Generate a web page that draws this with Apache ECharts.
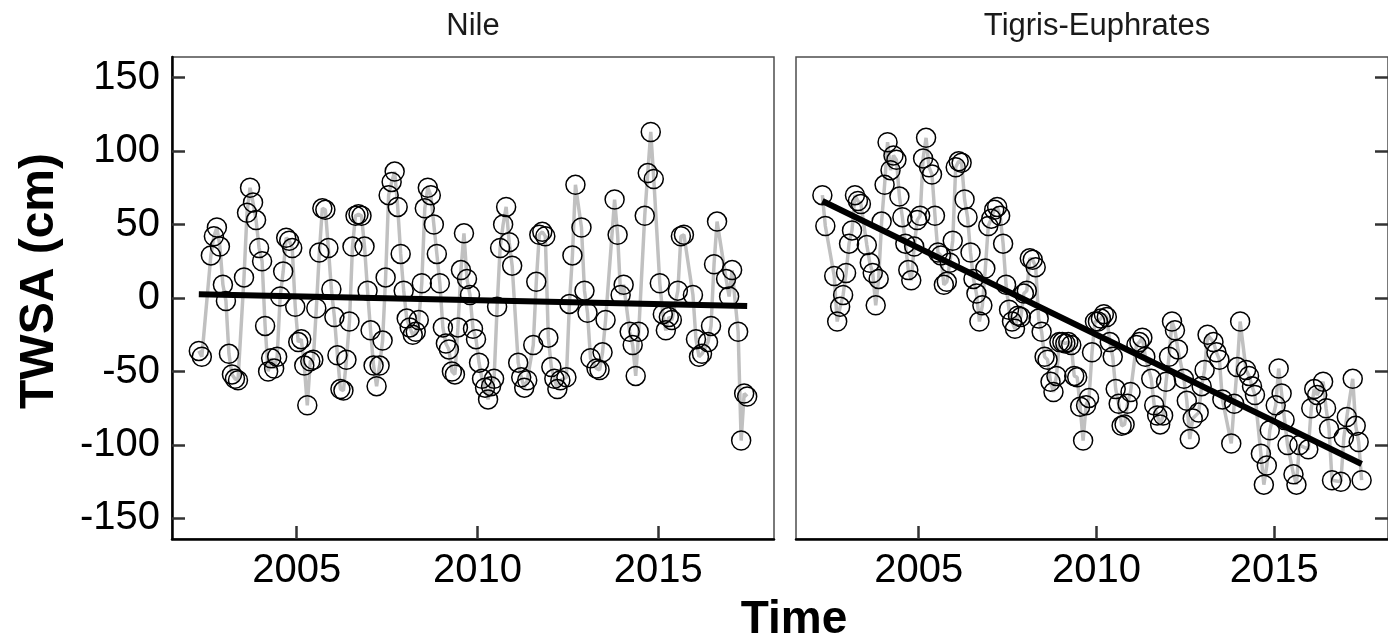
<!DOCTYPE html>
<html>
<head>
<meta charset="utf-8">
<title>TWSA</title>
<script src="https://cdn.jsdelivr.net/npm/echarts@6.0.0/dist/echarts.min.js"></script>
<style>
  html, body { margin: 0; padding: 0; background: #fff; }
  #chart { width: 1388px; height: 642px; }
</style>
</head>
<body>
<div id="chart"></div>
<script>
// GRACE months (gaps left out), one entry per observation
var months = [
  '2002-04','2002-05','2002-08','2002-09','2002-10','2002-11','2002-12',
  '2003-01','2003-02','2003-03','2003-04','2003-05','2003-07','2003-08','2003-09','2003-10','2003-11','2003-12',
  '2004-01','2004-02','2004-03','2004-04','2004-05','2004-06','2004-07','2004-08','2004-09','2004-10','2004-11','2004-12',
  '2005-01','2005-02','2005-03','2005-04','2005-05','2005-06','2005-07','2005-08','2005-09','2005-10','2005-11','2005-12',
  '2006-01','2006-02','2006-03','2006-04','2006-05','2006-06','2006-07','2006-08','2006-09','2006-10','2006-11','2006-12',
  '2007-01','2007-02','2007-03','2007-04','2007-05','2007-06','2007-07','2007-08','2007-09','2007-10','2007-11','2007-12',
  '2008-01','2008-02','2008-03','2008-04','2008-05','2008-06','2008-07','2008-08','2008-09','2008-10','2008-11','2008-12',
  '2009-01','2009-02','2009-03','2009-04','2009-05','2009-06','2009-07','2009-08','2009-09','2009-10','2009-11','2009-12',
  '2010-01','2010-02','2010-03','2010-04','2010-05','2010-06','2010-07','2010-08','2010-09','2010-10','2010-11','2010-12',
  '2011-02','2011-03','2011-04','2011-05','2011-07','2011-08','2011-09','2011-10','2011-11','2011-12',
  '2012-01','2012-02','2012-03','2012-04','2012-06','2012-07','2012-08','2012-09','2012-11','2012-12',
  '2013-01','2013-02','2013-04','2013-05','2013-06','2013-07','2013-10','2013-11','2013-12',
  '2014-01','2014-03','2014-04','2014-05','2014-06','2014-08','2014-09','2014-10','2014-11',
  '2015-01','2015-02','2015-03','2015-04','2015-05','2015-07','2015-08','2015-09','2015-12',
  '2016-01','2016-02','2016-03','2016-05','2016-06','2016-07','2016-08','2016-11','2016-12',
  '2017-01','2017-03','2017-04','2017-05','2017-06'
];

// TWSA (cm), Nile
var nileTWSA = [
  -36, -40, 29, 42, 48, 35, 9,
  -2, -38, -52, -55, -56, 14, 58, 75, 65, 53, 34,
  25, -19, -50, -41, -48, -40, 1, 18, 41, 39, 34, -6,
  -30, -28, -46, -73, -43, -42, -7, 31, 61, 60, 34, 6,
  -13, -39, -62, -63, -42, -16, 35, 56, 57, 56, 35, 5,
  -22, -46, -60, -46, -29, 14, 70, 79, 86, 62, 30, 5,
  -14, -20, -25, -23, -15, 10, 61, 75, 70, 50, 30, 10,
  -20, -31, -35, -50, -52, -20, 19, 44, 13, 2, -21, -28,
  -44, -55, -61, -69, -60, -55, -6, 34, 50, 62, 38, 22,
  -44, -54, -61, -56, -32, 11, 43, 45, 42, -27,
  -47, -55, -62, -56, -54, -4, 29, 77, 48, 5,
  -10, -41, -48, -49, -37, -15, 67, 43, 2,
  9, -23, -32, -53, -23, 56, 85, 113, 81,
  10, -11, -22, -13, -15, 5, 42, 43, 2,
  -28, -40, -38, -30, -19, 23, 52, 13, 1,
  19, -23, -97, -65, -67
];

// TWSA (cm), Tigris-Euphrates
var tigrisTWSA = [
  70, 49, 15, -16, -6, 2, 17,
  37, 46, 70, 66, 64, 36, 24, 17, -5, 13, 52,
  77, 106, 87, 97, 94, 69, 55, 37, 19, 12, 35, 53,
  56, 95, 109, 89, 84, 56, 31, 29, 9, 11, 24, 39,
  89, 93, 92, 67, 55, 31, 13, 3, -16, -5, 20, 49,
  54, 60, 62, 56, 37, 9, -8, -16, -21, -12, -13, 3,
  5, 27, 26, 21, -14, -23, -40, -42, -57, -64, -53, -30,
  -30, -31, -30, -32, -53, -54, -74, -97, -73, -68, -37, -16,
  -16, -14, -11, -13, -30, -40, -62, -72, -87, -86, -72, -64,
  -32, -30, -27, -40, -55, -73, -80, -86, -80, -57,
  -40, -16, -22, -35, -55, -70, -96, -82, -78, -60,
  -49, -25, -30, -37, -42, -69, -99, -72, -47,
  -16, -49, -53, -60, -66, -106, -127, -114, -90,
  -73, -48, -65, -83, -100, -120, -127, -100, -103,
  -75, -62, -66, -57, -75, -89, -124, -125, -95,
  -81, -55, -87, -98, -124
];

// fitted linear trend, value at first and last month
var nileTrend = [2.5, -5.5];
var tigrisTrend = [66, -113];

var panelNames = ['Nile', 'Tigris-Euphrates'];
var yTicks = [-150, -100, -50, 0, 50, 100, 150];
var xTicks = [2005, 2010, 2015];

function decimalYear(s) {
  var p = s.split('-');
  return +p[0] + (+p[1] - 0.5) / 12;
}

var times = months.map(decimalYear);

function pairs(vals) {
  return vals.map(function (v, i) { return [times[i], v]; });
}

function trendPairs(t) {
  return [[times[0], t[0]], [times[times.length - 1], t[1]]];
}

var FONT = '"Liberation Sans", Arial, Helvetica, sans-serif';
var PANEL_W = 602, PANEL_H = 482, TOP = 57;
var lefts = [172, 796];

var grids = lefts.map(function (l) {
  return {
    left: l, top: TOP, width: PANEL_W, height: PANEL_H,
    show: true, borderColor: '#4d4d4d', borderWidth: 1.5,
    backgroundColor: 'transparent'
  };
});

var xAxes = [0, 1].map(function (g) {
  return {
    type: 'value', gridIndex: g, min: 2001.55, max: 2018.2,
    splitLine: { show: false },
    axisLine: { show: true, onZero: false, lineStyle: { color: '#000', width: 2.5 } },
    axisTick: { show: true, inside: true, length: 13, customValues: xTicks,
      lineStyle: { color: '#333', width: 2.5 } },
    axisLabel: { show: true, customValues: xTicks, fontSize: 40, color: '#000',
      fontFamily: FONT, margin: 12,
      formatter: function (v) { return String(v); } }
  };
});

var yBase = { type: 'value', min: -164, max: 164, splitLine: { show: false } };

var yAxes = [
  Object.assign({}, yBase, {
    gridIndex: 0,
    axisLine: { show: true, onZero: false, lineStyle: { color: '#000', width: 2.5 } },
    axisTick: { show: true, inside: true, length: 13, customValues: yTicks,
      lineStyle: { color: '#333', width: 2.5 } },
    axisLabel: { show: true, customValues: yTicks, fontSize: 40, color: '#000',
      fontFamily: FONT, margin: 12 }
  }),
  Object.assign({}, yBase, {
    gridIndex: 1,
    axisLine: { show: false }, axisTick: { show: false }, axisLabel: { show: false }
  }),
  // secondary axis on the right edge of the last panel
  Object.assign({}, yBase, {
    gridIndex: 1, position: 'right',
    axisLine: { show: false },
    axisTick: { show: true, inside: true, length: 13, customValues: yTicks,
      lineStyle: { color: '#333', width: 2.5 } },
    axisLabel: { show: false }
  })
];

function dataSeries(g, vals) {
  return {
    type: 'line', xAxisIndex: g, yAxisIndex: g,
    data: pairs(vals),
    symbol: 'circle', symbolSize: 19, showAllSymbol: true,
    lineStyle: { color: '#c0c0c0', width: 3.5 },
    itemStyle: { color: 'rgba(0,0,0,0)', borderColor: '#000', borderWidth: 1.5 },
    emphasis: { disabled: true },
    z: 2
  };
}

function trendSeries(g, t) {
  return {
    type: 'line', xAxisIndex: g, yAxisIndex: g,
    data: trendPairs(t), showSymbol: false,
    lineStyle: { color: '#000', width: 6 },
    emphasis: { disabled: true },
    z: 3
  };
}

var texts = panelNames.map(function (n, i) {
  return {
    type: 'text', x: lefts[i] + PANEL_W / 2, y: 26,
    style: { text: n, font: '31px ' + FONT, fill: '#1a1a1a',
      textAlign: 'center', textVerticalAlign: 'middle' }
  };
});
texts.push({
  type: 'text', x: 794, y: 620,
  style: { text: 'Time', font: 'bold 46px ' + FONT, fill: '#000',
    textAlign: 'center', textVerticalAlign: 'middle' }
});
texts.push({
  type: 'text', x: 40, y: 281, rotation: Math.PI / 2,
  style: { text: 'TWSA (cm)', font: 'bold 48px ' + FONT, fill: '#000',
    textAlign: 'center', textVerticalAlign: 'middle' }
});

var chart = echarts.init(document.getElementById('chart'));
chart.setOption({
  animation: false,
  backgroundColor: '#fff',
  grid: grids,
  xAxis: xAxes,
  yAxis: yAxes,
  series: [
    dataSeries(0, nileTWSA),
    trendSeries(0, nileTrend),
    dataSeries(1, tigrisTWSA),
    trendSeries(1, tigrisTrend)
  ],
  graphic: texts
});
</script>
</body>
</html>
